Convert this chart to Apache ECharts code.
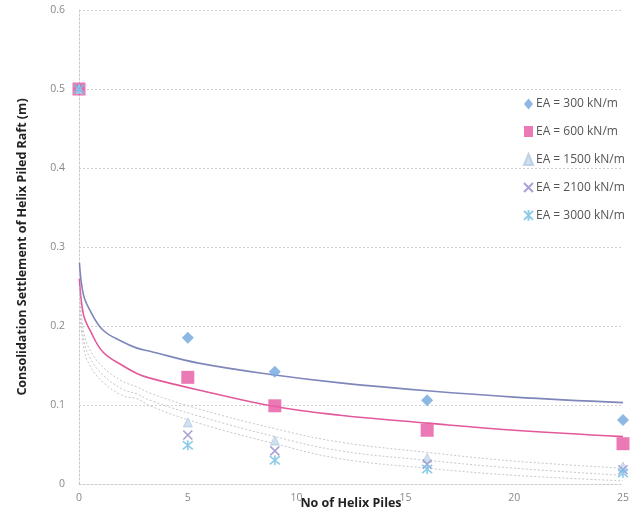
<!DOCTYPE html>
<html><head><meta charset="utf-8">
<script src="https://cdn.jsdelivr.net/npm/echarts@6/dist/echarts.min.js"></script>
<style>html,body{margin:0;padding:0;background:#fff}#c{width:635px;height:517px}</style>
</head><body><div id="c"></div>
<script>
const piles = [0, 5, 9, 16, 25];
const ea300 = [0.5, 0.185, 0.142, 0.106, 0.081];
const ea600 = [0.5, 0.135, 0.099, 0.068, 0.051];
const ea1500 = [0.5, 0.078, 0.055, 0.033, 0.022];
const ea2100 = [0.5, 0.062, 0.042, 0.025, 0.018];
const ea3000 = [0.5, 0.049, 0.030, 0.019, 0.014];
const names = ['EA = 300 kN/m','EA = 600 kN/m','EA = 1500 kN/m','EA = 2100 kN/m','EA = 3000 kN/m'];
// trend lines
const trendX = [0.02, 0.2, 0.5, 1.1, 2, 2.66, 3.26, 5.5, 9, 12, 16, 20, 25];
const trend300 = [0.28, 0.24, 0.22, 0.195, 0.18, 0.172, 0.168, 0.153, 0.138, 0.128, 0.118, 0.110, 0.103];
const trend600 = [0.26, 0.215, 0.195, 0.167, 0.150, 0.140, 0.134, 0.119, 0.098, 0.087, 0.077, 0.068, 0.060];
const trend1500 = [0.25, 0.195, 0.17, 0.148, 0.13, 0.123, 0.115, 0.095, 0.070, 0.053, 0.040, 0.029, 0.020];
const trend2100 = [0.24, 0.185, 0.16, 0.138, 0.12, 0.114, 0.106, 0.086, 0.060, 0.042, 0.030, 0.020, 0.011];
const trend3000 = [0.23, 0.175, 0.15, 0.129, 0.112, 0.108, 0.099, 0.077, 0.051, 0.032, 0.020, 0.011, 0.004];
const xTicks = [0, 5, 10, 15, 20, 25];
const yTicks = [0, 0.1, 0.2, 0.3, 0.4, 0.5, 0.6];

const zip = (xs, ys) => xs.map((x, i) => [x, ys[i]]);
const xPath = 'path://M0,0 L10,10 M10,0 L0,10';
const starPath = 'path://M0,0 L10,10 M10,0 L0,10 M5,-1 L5,11';

const markers = [
  {data: ea300, symbol: 'diamond', size: 12, color: '#79acdf', border: '#8fbce6', bw: 0, op: 0.85},
  {data: ea600, symbol: 'rect', size: 13, color: '#e761a8', border: '#e761a8', bw: 0, op: 0.85},
  {data: ea1500, symbol: 'triangle', size: 9, color: '#c9dbeb', border: '#b7cde3', bw: 1, op: 0.85},
  {data: ea2100, symbol: xPath, size: 9, color: 'rgba(0,0,0,0)', border: '#9b8fd2', bw: 1.6, op: 0.85},
  {data: ea3000, symbol: starPath, size: 10, color: 'rgba(0,0,0,0)', border: '#79c2e4', bw: 1.6, op: 0.85}
];
const series = [];
const trends = [
  {d: trend300, c: '#7f86ba', w: 1.6, t: 'solid'},
  {d: trend600, c: '#e3589a', w: 1.6, t: 'solid'},
  {d: trend1500, c: '#c8c8c8', w: 1, t: [2, 2]},
  {d: trend2100, c: '#c8c8c8', w: 1, t: [2, 2]},
  {d: trend3000, c: '#c8c8c8', w: 1, t: [2, 2]}
];
trends.forEach(t => series.push({
  type: 'line', data: zip(trendX, t.d), smooth: 0.4, showSymbol: false, silent: true,
  lineStyle: {color: t.c, width: t.w, type: t.t}, z: 1
}));
markers.forEach((m, i) => series.push({
  name: names[i], type: 'scatter', data: zip(piles, m.data), symbol: m.symbol, symbolSize: m.size,
  itemStyle: {color: m.color, borderColor: m.border, borderWidth: m.bw, opacity: m.op}, z: 3
}));

const chart = echarts.init(document.getElementById('c'), null, {renderer: 'canvas'});
chart.setOption({
  animation: false,
  backgroundColor: '#fff',
  grid: {left: 79, right: 12, top: 10, bottom: 33, outerBoundsMode: 'none', containLabel: false},
  legend: {
    orient: 'vertical', left: 518, top: 93, itemGap: 15.5, itemWidth: 9, itemHeight: 11,
    data: names, textStyle: {color: '#555', fontSize: 12, fontFamily: 'Open Sans', padding: [0, 0, 0, -2]}
  },
  xAxis: {
    type: 'value', min: 0, max: 25, interval: 5,
    name: 'No of Helix Piles', nameLocation: 'middle', nameGap: 13, nameMoveOverlap: false,
    nameTextStyle: {fontWeight: 'bold', fontSize: 12.5, color: '#222', fontFamily: 'Open Sans'},
    axisLine: {show: true, lineStyle: {color: '#c8c8c8', type: [2, 2]}},
    axisTick: {show: false},
    axisLabel: {color: '#888', fontSize: 10.5, margin: 9, fontFamily: 'Open Sans'},
    splitLine: {show: false}
  },
  yAxis: {
    type: 'value', min: 0, max: 0.6, interval: 0.1,
    name: 'Consolidation Settlement of Helix Piled Raft (m)', nameLocation: 'middle', nameGap: 50, nameMoveOverlap: false,
    nameTextStyle: {fontWeight: 'bold', fontSize: 12.5, color: '#222', fontFamily: 'Open Sans'},
    axisLine: {show: true, lineStyle: {color: '#c8c8c8', type: [2, 2]}},
    axisTick: {show: false},
    axisLabel: {color: '#888', fontSize: 10.5, margin: 14, fontFamily: 'Open Sans',
      formatter: v => String(Math.round(v * 10) / 10)},
    splitLine: {show: true, lineStyle: {color: '#d0d0d0', type: [2, 2]}}
  },
  series: series
});
</script></body></html>
